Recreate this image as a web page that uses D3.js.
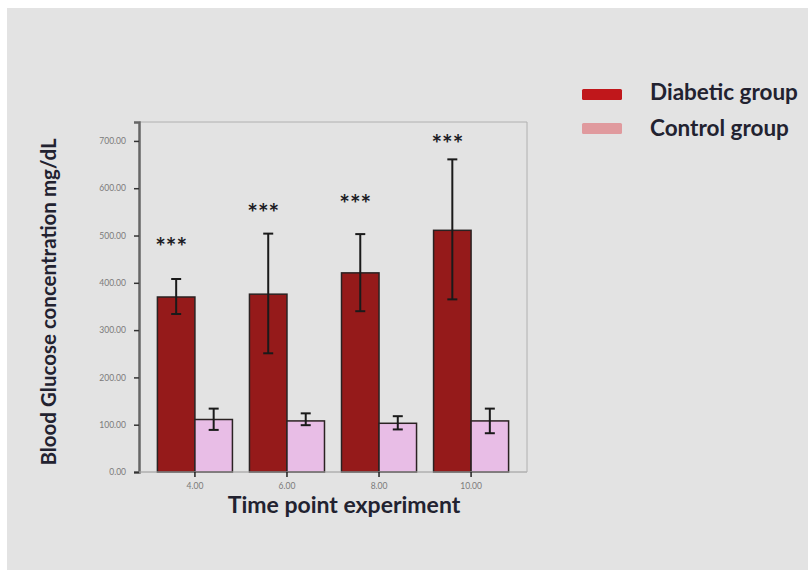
<!DOCTYPE html>
<style>
body { margin: 0; background: #fff; }
.chart text { font-family: Lato, "DejaVu Sans", sans-serif; }
.tick text { fill: #7a7a7a; font-size: 8.5px; }
</style>
<script src="https://d3js.org/d3.v7.min.js"></script>
<svg class="chart" width="808" height="574"></svg>
<script>
// time points (days) and group means / error ranges in mg/dL
var timePoints = ["4.00", "6.00", "8.00", "10.00"];
var groups = ["Diabetic group", "Control group"];
var diabeticMean = [370, 376, 421, 511];
var diabeticLow = [334, 251, 340, 365];
var diabeticHigh = [408, 504, 503, 661];
var controlMean = [111, 108, 103, 108];
var controlLow = [89, 99, 90, 82];
var controlHigh = [134, 124, 118, 134];
var significance = ["***", "***", "***", "***"];
var starLevels = [487, 559, 578, 705];
var yTicks = [0, 100, 200, 300, 400, 500, 600, 700];

var svg = d3.select("svg");
svg.append("rect").attr("x", 7).attr("y", 8).attr("width", 801).attr("height", 562).attr("fill", "#e3e3e3");

var x = d3.scaleBand().domain(timePoints).range([139, 527]).paddingInner(0.185).paddingOuter(0.2);
var xs = d3.scaleBand().domain(groups).range([0, x.bandwidth()]);
var y = d3.scaleLinear().domain([0, 740]).range([472, 122]);

// frame
svg.append("path").attr("d", "M139,122H527V472H139").attr("fill", "none").attr("stroke", "#b0b0b0").attr("stroke-width", 1);

var rows = timePoints.map(function(t, i) {
    return [
        {t: t, g: groups[0], v: diabeticMean[i], lo: diabeticLow[i], hi: diabeticHigh[i]},
        {t: t, g: groups[1], v: controlMean[i], lo: controlLow[i], hi: controlHigh[i]}
    ];
});
var colors = {"Diabetic group": "#951a1a", "Control group": "#e8bde6"};

var grp = svg.append("g").selectAll("g").data(rows).join("g")
    .attr("transform", function(d) { return "translate(" + x(d[0].t) + ",0)"; });
grp.selectAll("rect").data(function(d) { return d; }).join("rect")
    .attr("x", function(d) { return xs(d.g); })
    .attr("width", xs.bandwidth())
    .attr("y", function(d) { return y(d.v); })
    .attr("height", function(d) { return y(0) - y(d.v); })
    .attr("fill", function(d) { return colors[d.g]; })
    .attr("stroke", "#2a2222").attr("stroke-width", 1.5);

var eb = grp.selectAll("g.err").data(function(d) { return d; }).join("g").attr("class", "err")
    .attr("transform", function(d) { return "translate(" + (xs(d.g) + xs.bandwidth() / 2) + ",0)"; })
    .attr("stroke", "#1a1a1a").attr("stroke-width", 2);
eb.append("line").attr("y1", function(d) { return y(d.lo); }).attr("y2", function(d) { return y(d.hi); });
eb.append("line").attr("x1", -5).attr("x2", 5).attr("y1", function(d) { return y(d.hi); }).attr("y2", function(d) { return y(d.hi); });
eb.append("line").attr("x1", -5).attr("x2", 5).attr("y1", function(d) { return y(d.lo); }).attr("y2", function(d) { return y(d.lo); });

// significance stars
svg.append("g").selectAll("text").data(timePoints).join("text")
    .attr("x", function(t) { return x(t) + xs(groups[0]) + xs.bandwidth() / 2 - 5; })
    .attr("y", function(t, i) { return y(starLevels[i]) + 14; })
    .attr("text-anchor", "middle")
    .attr("font-size", 25).attr("font-weight", "bold").attr("fill", "#1c1c24")
    .text(function(t, i) { return significance[i]; });

// axes
var yAxis = svg.append("g").attr("transform", "translate(139,0)")
    .call(d3.axisLeft(y).tickValues(yTicks).tickFormat(d3.format(".2f")).tickSize(5).tickPadding(8));
yAxis.select(".domain").attr("stroke", "#666").attr("stroke-width", 2.5);
yAxis.selectAll(".tick line").attr("stroke", "#333").attr("stroke-width", 1.5);

var xAxis = svg.append("g").attr("transform", "translate(0,472)")
    .call(d3.axisBottom(x).tickSize(5).tickPadding(6));
xAxis.select(".domain").attr("stroke", "#b0b0b0").attr("d", "M139,0H527");
xAxis.selectAll(".tick line").attr("stroke", "#222").attr("stroke-width", 1.5);

svg.append("text").attr("x", 344).attr("y", 513).attr("text-anchor", "middle")
    .attr("font-size", 23).attr("font-weight", "bold").attr("fill", "#222230")
    .text("Time point experiment");
svg.append("text").attr("transform", "translate(56,302) rotate(-90)").attr("text-anchor", "middle")
    .attr("font-size", 20.5).attr("font-weight", "bold").attr("fill", "#222230")
    .text("Blood Glucose concentration mg/dL");

// legend
var legendColors = ["#c0171b", "#e09a9e"];
var lg = svg.append("g").selectAll("g").data(groups).join("g")
    .attr("transform", function(d, i) { return "translate(582," + (89 + i * 34) + ")"; });
lg.append("rect").attr("width", 40).attr("height", 11).attr("rx", 1.5)
    .attr("fill", function(d, i) { return legendColors[i]; });
lg.append("text").attr("x", 68).attr("y", function(d, i) { return 10.5 + i * 2.5; })
    .attr("font-size", 22.5).attr("font-weight", "bold")
    .attr("fill", "#222230").text(function(d) { return d; });
</script>
